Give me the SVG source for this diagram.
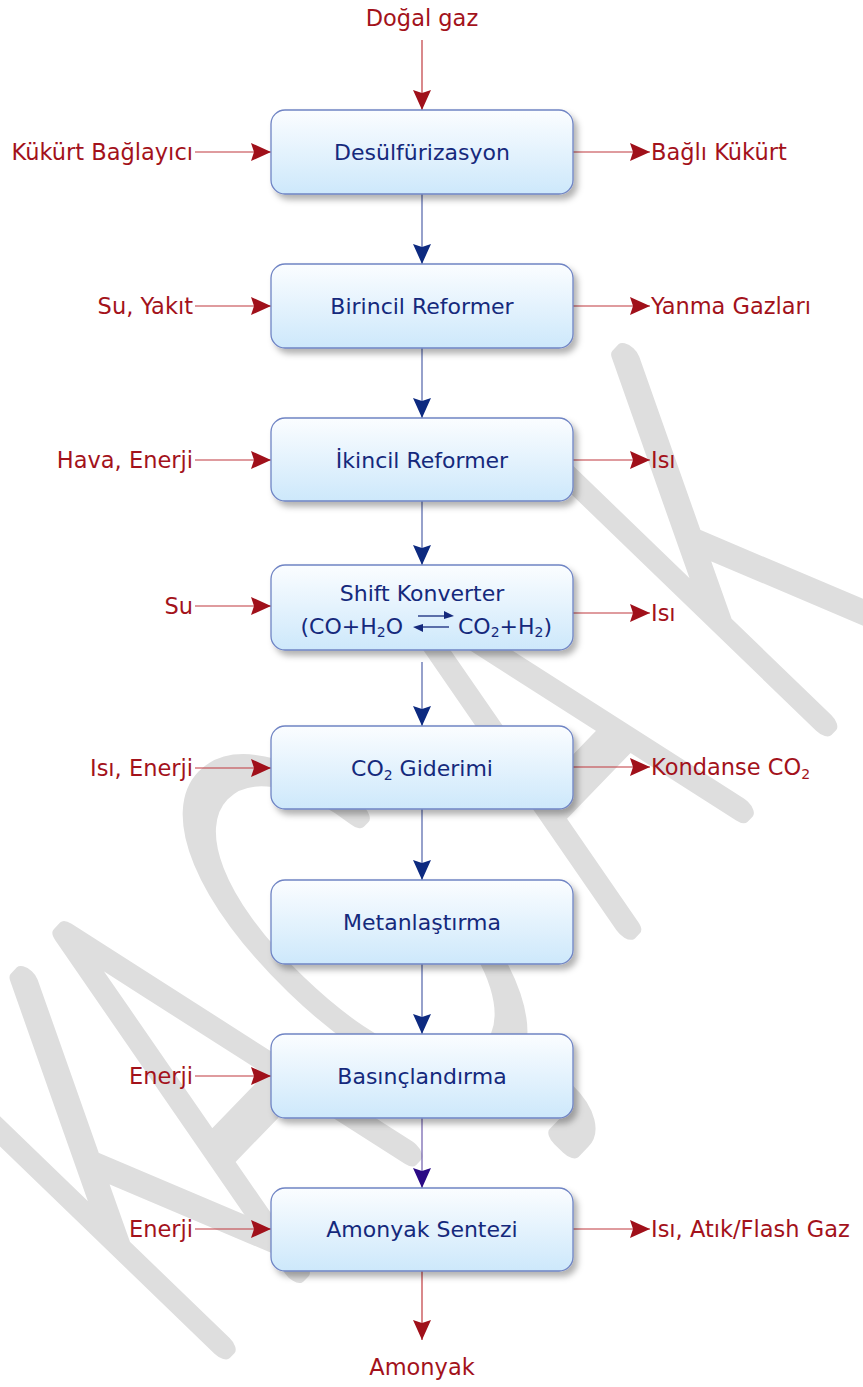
<svg xmlns="http://www.w3.org/2000/svg" width="863" height="1387" viewBox="0 0 863 1387">
<defs>
<style>
.box{fill:url(#bg);stroke:#6f84c4;stroke-width:1.3;filter:url(#sh)}
.bt{font-family:"DejaVu Sans","Liberation Sans",sans-serif;font-size:22px;fill:#15297c;text-anchor:middle}
.bs{font-family:"DejaVu Sans","Liberation Sans",sans-serif;font-size:22px;fill:#15297c}
.rl{font-family:"DejaVu Sans","Liberation Sans",sans-serif;font-size:22.5px;fill:#a3121b}
.rlL{text-anchor:end}
.rlC{text-anchor:middle}
.rline{stroke:#c0393f;stroke-width:1.2;fill:none}
.nline{stroke:#5062a8;stroke-width:1.2;fill:none}
.pline{stroke:#6d5cab;stroke-width:1.2;fill:none}
.wm{font-family:Inter,Roboto,"DejaVu Sans",sans-serif;font-weight:100;font-size:545px;fill:#dedede;stroke:#dedede;stroke-width:28;stroke-linejoin:round;stroke-linecap:round}
</style>
<linearGradient id="bg" x1="0" y1="0" x2="0" y2="1">
<stop offset="0" stop-color="#fbfdff"/>
<stop offset="1" stop-color="#cde8fb"/>
</linearGradient>
<filter id="sh" x="-10%" y="-20%" width="130%" height="150%">
<feDropShadow dx="4" dy="5" stdDeviation="3" flood-color="#000" flood-opacity="0.3"/>
</filter>
<marker id="ar" viewBox="0 0 20 20" refX="20" refY="10" markerWidth="20" markerHeight="20" markerUnits="userSpaceOnUse" orient="auto"><path d="M0,1 L20,10 L0,19 L3,10 z" fill="#a0101a"/></marker>
<marker id="an" viewBox="0 0 20 20" refX="20" refY="10" markerWidth="20" markerHeight="20" markerUnits="userSpaceOnUse" orient="auto"><path d="M0,1 L20,10 L0,19 L3,10 z" fill="#0d2a80"/></marker>
<marker id="ap" viewBox="0 0 20 20" refX="20" refY="10" markerWidth="20" markerHeight="20" markerUnits="userSpaceOnUse" orient="auto"><path d="M0,1 L20,10 L0,19 L3,10 z" fill="#2b0a85"/></marker>
</defs>
<rect width="863" height="1387" fill="#ffffff"/>
<g id="watermark">
<text class="wm" transform="translate(196.6,1372.2) rotate(-46) scale(0.54,1)" x="0" y="0" dx="0 -85 20 137 131">KAÇAK</text>
</g>
<g id="connectors">
<line class="rline" x1="422" y1="40" x2="422" y2="110" marker-end="url(#ar)"/>
<line class="nline" x1="422" y1="194" x2="422" y2="264" marker-end="url(#an)"/>
<line class="nline" x1="422" y1="348" x2="422" y2="418" marker-end="url(#an)"/>
<line class="nline" x1="422" y1="501" x2="422" y2="565" marker-end="url(#an)"/>
<line class="nline" x1="422" y1="662" x2="422" y2="726" marker-end="url(#an)"/>
<line class="nline" x1="422" y1="809" x2="422" y2="880" marker-end="url(#an)"/>
<line class="nline" x1="422" y1="964" x2="422" y2="1034" marker-end="url(#an)"/>
<line class="pline" x1="422" y1="1118" x2="422" y2="1188" marker-end="url(#ap)"/>
<line class="rline" x1="422" y1="1271" x2="422" y2="1340" marker-end="url(#ar)"/>
<line class="rline" x1="195" y1="152" x2="271" y2="152" marker-end="url(#ar)"/>
<line class="rline" x1="195" y1="306" x2="271" y2="306" marker-end="url(#ar)"/>
<line class="rline" x1="195" y1="460" x2="271" y2="460" marker-end="url(#ar)"/>
<line class="rline" x1="195" y1="606" x2="271" y2="606" marker-end="url(#ar)"/>
<line class="rline" x1="195" y1="768" x2="271" y2="768" marker-end="url(#ar)"/>
<line class="rline" x1="195" y1="1076" x2="271" y2="1076" marker-end="url(#ar)"/>
<line class="rline" x1="195" y1="1229" x2="271" y2="1229" marker-end="url(#ar)"/>
<line class="rline" x1="573" y1="152" x2="650" y2="152" marker-end="url(#ar)"/>
<line class="rline" x1="573" y1="306" x2="650" y2="306" marker-end="url(#ar)"/>
<line class="rline" x1="573" y1="460" x2="650" y2="460" marker-end="url(#ar)"/>
<line class="rline" x1="573" y1="613" x2="650" y2="613" marker-end="url(#ar)"/>
<line class="rline" x1="573" y1="767" x2="650" y2="767" marker-end="url(#ar)"/>
<line class="rline" x1="573" y1="1229" x2="650" y2="1229" marker-end="url(#ar)"/>
</g>
<g id="labels">
<text class="rl rlC" x="422" y="26">Doğal gaz</text>
<text class="rl rlC" x="422" y="1375">Amonyak</text>
<text class="rl rlL" x="193" y="160">Kükürt Bağlayıcı</text>
<text class="rl rlL" x="193" y="314">Su, Yakıt</text>
<text class="rl rlL" x="193" y="468">Hava, Enerji</text>
<text class="rl rlL" x="193" y="614">Su</text>
<text class="rl rlL" x="193" y="776">Isı, Enerji</text>
<text class="rl rlL" x="193" y="1084">Enerji</text>
<text class="rl rlL" x="193" y="1237">Enerji</text>
<text class="rl" x="651" y="160">Bağlı Kükürt</text>
<text class="rl" x="651" y="314">Yanma Gazları</text>
<text class="rl" x="651" y="468">Isı</text>
<text class="rl" x="651" y="621">Isı</text>
<text class="rl" x="651" y="775">Kondanse CO<tspan font-size="14" dy="4">2</tspan></text>
<text class="rl" x="651" y="1237">Isı, Atık/Flash Gaz</text>
</g>
<g id="n1"><rect class="box" x="271" y="110" width="302" height="84" rx="14"/><text class="bt" x="422" y="160">Desülfürizasyon</text></g>
<g id="n2"><rect class="box" x="271" y="264" width="302" height="84" rx="14"/><text class="bt" x="422" y="314">Birincil Reformer</text></g>
<g id="n3"><rect class="box" x="271" y="418" width="302" height="83" rx="14"/><text class="bt" x="422" y="468">İkincil Reformer</text></g>
<g id="n4"><rect class="box" x="271" y="565" width="302" height="85" rx="14"/>
<text class="bt" x="422" y="601">Shift Konverter</text>
<text class="bs" x="403" y="634" style="text-anchor:end">(CO+H<tspan font-size="14" dy="3">2</tspan><tspan dy="-3">O</tspan></text>
<text class="bs" x="458" y="634" style="text-anchor:start">CO<tspan font-size="14" dy="3">2</tspan><tspan dy="-3">+H</tspan><tspan font-size="14" dy="3">2</tspan><tspan dy="-3">)</tspan></text>
<line x1="418" y1="616" x2="446" y2="616" stroke="#15297c" stroke-width="1.3"/>
<path d="M444,611 L454,616 L444,619 z" fill="#15297c"/>
<line x1="421" y1="627" x2="449" y2="627" stroke="#15297c" stroke-width="1.3"/>
<path d="M423,624 L413,627 L423,632 z" fill="#15297c"/>
</g>
<g id="n5"><rect class="box" x="271" y="726" width="302" height="83" rx="14"/><text class="bt" x="422" y="776">CO<tspan font-size="14" dy="4">2</tspan><tspan dy="-4"> Giderimi</tspan></text></g>
<g id="n6"><rect class="box" x="271" y="880" width="302" height="84" rx="14"/><text class="bt" x="422" y="930">Metanlaştırma</text></g>
<g id="n7"><rect class="box" x="271" y="1034" width="302" height="84" rx="14"/><text class="bt" x="422" y="1084">Basınçlandırma</text></g>
<g id="n8"><rect class="box" x="271" y="1188" width="302" height="83" rx="14"/><text class="bt" x="422" y="1237">Amonyak Sentezi</text></g>
</svg>
